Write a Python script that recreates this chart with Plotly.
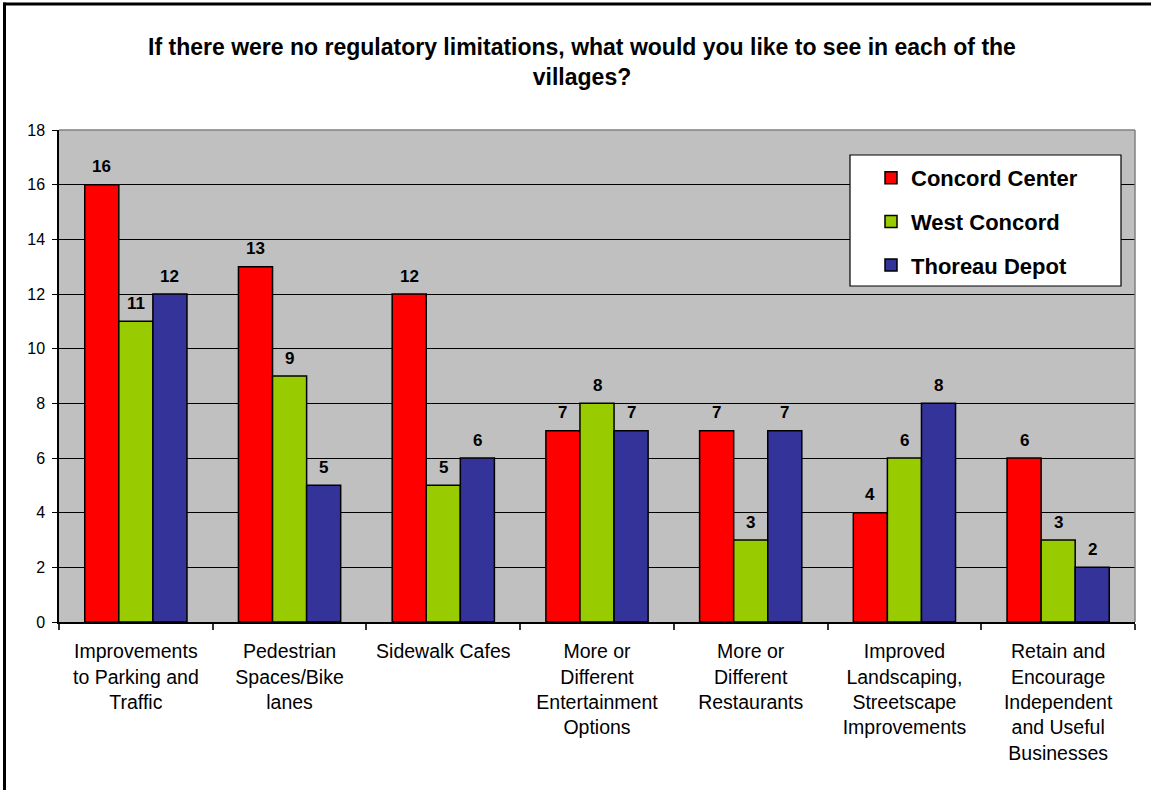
import plotly.graph_objects as go

# Survey responses per improvement type, split by village
categories = [
    "Improvements<br>to Parking and<br>Traffic",
    "Pedestrian<br>Spaces/Bike<br>lanes",
    "Sidewalk Cafes",
    "More or<br>Different<br>Entertainment<br>Options",
    "More or<br>Different<br>Restaurants",
    "Improved<br>Landscaping,<br>Streetscape<br>Improvements",
    "Retain and<br>Encourage<br>Independent<br>and Useful<br>Businesses",
]
concord_center = [16, 13, 12, 7, 7, 4, 6]
west_concord = [11, 9, 5, 8, 3, 6, 3]
thoreau_depot = [12, 5, 6, 7, 7, 8, 2]

series = [
    ("Concord Center", concord_center, "#FF0000"),
    ("West Concord", west_concord, "#99CC00"),
    ("Thoreau Depot", thoreau_depot, "#333399"),
]

W, H = 1151, 790
ML, MR, MT, MB = 59, 16, 130, 168
PW, PH = W - ML - MR, H - MT - MB
BARGAP = 0.335

FONT = "Liberation Sans, Arial, Helvetica, sans-serif"


def px_x(px):
    return (px - ML) / PW


def px_y(py):
    return (H - MB - py) / PH


fig = go.Figure()
for i, (name, vals, color) in enumerate(series):
    fig.add_trace(go.Bar(
        name=name,
        x=categories,
        y=vals,
        marker=dict(color=color, line=dict(color="#000000", width=1.5)),
        legendgroup=f"g{i}",
    ))

# value labels above each bar, placed at the bar's slot within its group
n_series = len(series)
slot = (1 - BARGAP) / n_series
annotations = []
for j, (name, vals, color) in enumerate(series):
    offset = (j - (n_series - 1) / 2) * slot
    for i, v in enumerate(vals):
        annotations.append(dict(
            x=i + offset, y=v, xref="x", yref="y",
            text=f"<b>{v}</b>", showarrow=False,
            yanchor="middle", yshift=18,
            font=dict(family=FONT, size=17, color="#000000"),
        ))

shapes = [
    # legend frame
    dict(type="rect", xref="paper", yref="paper",
         x0=px_x(850), x1=px_x(1121), y0=px_y(286), y1=px_y(155),
         fillcolor="#FFFFFF", line=dict(color="#000000", width=1.2), layer="above"),
    # plot area top/right edges
    dict(type="line", xref="paper", yref="paper", x0=0, x1=1, y0=1, y1=1,
         line=dict(color="#808080", width=1.5)),
    dict(type="line", xref="paper", yref="paper", x0=1, x1=1, y0=0, y1=1,
         line=dict(color="#808080", width=1.5)),
    # chart frame (top and left)
    dict(type="line", xref="paper", yref="paper",
         x0=px_x(3.5), x1=px_x(1200), y0=px_y(4), y1=px_y(4),
         line=dict(color="#000000", width=3)),
    dict(type="line", xref="paper", yref="paper",
         x0=px_x(4.5), x1=px_x(4.5), y0=px_y(2.5), y1=px_y(800),
         line=dict(color="#000000", width=3)),
]

fig.update_layout(
    width=W, height=H,
    margin=dict(l=ML, r=MR, t=MT, b=MB),
    paper_bgcolor="#FFFFFF",
    plot_bgcolor="#C0C0C0",
    barmode="group",
    bargap=BARGAP,
    bargroupgap=0,
    title=dict(
        text="<b>If there were no regulatory limitations, what would you like to see in each of the<br>villages?</b>",
        x=582 / W, xref="container", xanchor="center",
        y=1 - 55 / H, yref="container", yanchor="middle",
        font=dict(family=FONT, size=23, color="#000000"),
    ),
    font=dict(family=FONT, color="#000000"),
    showlegend=True,
    legend=dict(
        x=px_x(871), y=px_y(157), xanchor="left", yanchor="top",
        bgcolor="rgba(0,0,0,0)", borderwidth=0,
        font=dict(family=FONT, size=22, color="#000000", weight="bold"),
        traceorder="grouped", tracegroupgap=12,
    ),
    xaxis=dict(
        showline=True, linecolor="#000000", linewidth=1.5,
        ticks="outside", ticklen=6, tickcolor="#333333", tickwidth=1.5,
        tickson="boundaries",
        tickfont=dict(family=FONT, size=19.5, color="#000000"),
        ticklabelstandoff=11,
        showgrid=False,
    ),
    yaxis=dict(
        range=[0, 18], dtick=2, tick0=0,
        showline=True, linecolor="#000000", linewidth=1.5,
        ticks="outside", ticklen=5, tickcolor="#000000", tickwidth=1.2,
        tickfont=dict(family=FONT, size=16, color="#000000"),
        ticklabelstandoff=4,
        showgrid=True, gridcolor="#000000", gridwidth=1,
        zeroline=False,
    ),
    shapes=shapes,
    annotations=annotations,
)

fig.write_html("out.html")
